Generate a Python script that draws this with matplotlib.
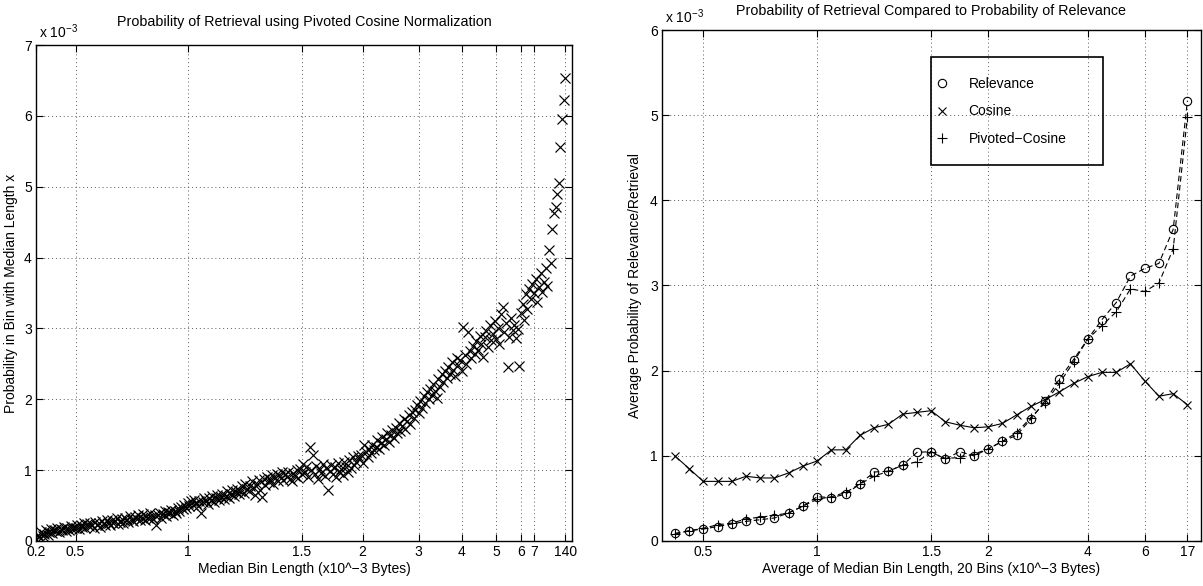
import numpy as np
import matplotlib.pyplot as plt
from matplotlib.patches import Rectangle

plt.rcParams['font.family'] = ['Liberation Sans', 'DejaVu Sans']
plt.rcParams['mathtext.fontset'] = 'custom'
plt.rcParams['mathtext.rm'] = 'Liberation Sans'
plt.rcParams['mathtext.it'] = 'Liberation Sans'

# ---- left chart: probability per bin (units of 1e-3), one value per bin ----
left_probs = [
    0.03, 0.08, 0.05, 0.12, 0.07, 0.10, 0.15, 0.09, 0.13, 0.17, 0.11, 0.16,
    0.14, 0.19, 0.12, 0.17, 0.15, 0.20, 0.14, 0.18, 0.16, 0.21, 0.17, 0.19,
    0.19, 0.23, 0.17, 0.22, 0.20, 0.25, 0.18, 0.24, 0.21, 0.26,
    0.22, 0.19, 0.27, 0.23, 0.25, 0.20, 0.28, 0.24, 0.22, 0.29,
    0.26, 0.23, 0.30, 0.25, 0.28, 0.32, 0.24, 0.27, 0.31, 0.26,
    0.33, 0.29, 0.27, 0.35, 0.30, 0.28, 0.34, 0.31, 0.36, 0.29,
    0.33, 0.38, 0.30, 0.35, 0.32, 0.39, 0.34, 0.31, 0.37, 0.22,
    0.36, 0.40, 0.33, 0.38, 0.42, 0.35, 0.41, 0.39, 0.44, 0.37,
    0.43, 0.40, 0.46, 0.42, 0.48, 0.45, 0.51, 0.47,
    0.53, 0.49, 0.56, 0.51, 0.58, 0.54, 0.50, 0.57, 0.40, 0.55,
    0.60, 0.56, 0.52, 0.61, 0.58, 0.63, 0.55, 0.60, 0.65, 0.58,
    0.62, 0.67, 0.59, 0.64, 0.70, 0.61, 0.66, 0.72, 0.63, 0.69,
    0.74, 0.66, 0.71, 0.77, 0.68, 0.80, 0.73, 0.70, 0.78, 0.84,
    0.75, 0.65, 0.81, 0.86, 0.72, 0.62, 0.88, 0.79, 0.91, 0.83,
    0.87, 0.93, 0.80, 0.89, 0.95, 0.84, 0.92, 0.97, 0.86, 0.94,
    0.90, 0.98, 0.88, 0.85, 0.96, 0.92, 1.00, 0.89,
    1.02, 0.94, 1.08, 0.97, 1.05, 0.91, 1.33, 1.00, 1.22, 0.95,
    1.06, 0.88, 1.01, 0.96, 1.09, 0.92, 1.03, 0.72, 0.99, 1.07,
    0.94, 1.04, 0.90, 1.10, 0.98, 1.02, 0.93, 1.12, 1.05, 0.97,
    1.14, 1.03, 1.18, 1.07, 1.11, 1.20,
    1.16, 1.22, 1.10, 1.35, 1.25, 1.19, 1.30, 1.24, 1.36, 1.28,
    1.33, 1.42, 1.30, 1.38, 1.47, 1.35, 1.44, 1.52, 1.40, 1.49,
    1.56, 1.45, 1.60, 1.52, 1.66, 1.55, 1.63, 1.72, 1.58, 1.70,
    1.78, 1.65, 1.82, 1.74,
    1.85, 1.92, 1.80, 1.98, 1.88, 2.05, 1.95, 2.10, 2.00, 2.15,
    2.06, 2.22, 2.12, 2.02, 2.28, 2.18, 2.35, 2.24, 2.40, 2.30,
    2.46, 2.36, 2.52, 2.42, 2.33, 2.58, 2.48,
    2.55, 2.40, 3.02, 2.62, 2.50, 2.95, 2.68, 2.58, 2.75, 2.64,
    2.82, 2.70, 2.90, 2.78, 2.60, 2.88, 2.96, 2.74, 3.05, 2.84,
    2.92, 3.10, 2.85, 3.00, 2.78, 3.20, 3.30, 2.95, 3.08, 2.46,
    2.88, 3.15, 2.98, 3.05, 2.86,
    2.99, 2.47, 3.22, 3.35, 3.12, 3.48, 3.28, 3.55,
    3.42, 3.62, 3.50, 3.70, 3.38, 3.58, 3.78, 3.52, 3.66, 3.85, 3.60, 4.10,
    3.92, 4.40, 4.63, 4.71, 4.90, 5.05, 5.56, 5.95, 6.22, 6.53,
]
left_tick_bins = [0, 24, 92, 161, 198, 232, 258, 279, 294, 302, 321]
left_tick_labels = ['0.2', '0.5', '1', '1.5', '2', '3', '4', '5', '6', '7', '140']

# ---- right chart: averages over 20-bin groups (units of 1e-3) ----
relevance = [0.09, 0.12, 0.14, 0.17, 0.20, 0.23, 0.25, 0.27, 0.33, 0.41, 0.52,
             0.51, 0.55, 0.67, 0.81, 0.82, 0.89, 1.04, 1.05, 0.96, 1.05, 1.00,
             1.08, 1.17, 1.24, 1.43, 1.64, 1.90, 2.13, 2.37, 2.60, 2.80, 3.11,
             3.20, 3.26, 3.66, 5.17]
cosine = [1.00, 0.85, 0.70, 0.70, 0.70, 0.76, 0.74, 0.74, 0.80, 0.88, 0.94,
          1.07, 1.07, 1.24, 1.33, 1.37, 1.49, 1.51, 1.53, 1.40, 1.36, 1.33,
          1.34, 1.38, 1.48, 1.58, 1.66, 1.75, 1.85, 1.93, 1.98, 1.98, 2.08,
          1.88, 1.70, 1.73, 1.60]
pivoted = [0.08, 0.12, 0.15, 0.19, 0.21, 0.26, 0.28, 0.30, 0.33, 0.41, 0.49,
           0.52, 0.57, 0.67, 0.76, 0.82, 0.89, 0.93, 1.04, 0.97, 0.98, 1.02,
           1.08, 1.17, 1.27, 1.45, 1.62, 1.85, 2.10, 2.37, 2.53, 2.69, 2.96,
           2.93, 3.03, 3.43, 4.98]
right_tick_bins = [2, 10, 18, 22, 29, 33, 36]
right_tick_labels = ['0.5', '1', '1.5', '2', '4', '6', '17']

fig = plt.figure(figsize=(12.03, 5.86), dpi=100)
ax1 = fig.add_axes([0.0299, 0.0768, 0.4456, 0.8464])
ax2 = fig.add_axes([0.5503, 0.0768, 0.4480, 0.8720])


def style_axes(ax):
    ax.tick_params(direction='in', top=True, right=True, length=5,
                   width=0.8, labelsize=10, pad=3)
    for sp in ax.spines.values():
        sp.set_linewidth(1.0)
    ax.grid(True, color='0.35', linestyle=(0, (1, 3)), linewidth=0.7)
    ax.set_axisbelow(True)


# left chart
bins = np.arange(len(left_probs))
ax1.plot(bins, left_probs, linestyle='none', marker='x', color='black',
         markersize=7, markeredgewidth=0.85)
ax1.set_xlim(0, 325)
ax1.set_ylim(0, 7)
ax1.set_xticks(left_tick_bins)
ax1.set_xticklabels(left_tick_labels)
ax1.set_yticks(range(0, 8))
style_axes(ax1)
ax1.set_title('Probability of Retrieval using Pivoted Cosine Normalization',
              fontsize=10.3, pad=14)
ax1.set_xlabel('Median Bin Length (x10^\u22123 Bytes)', fontsize=10, labelpad=2)
ax1.set_ylabel('Probability in Bin with Median Length x', fontsize=10, labelpad=4)
ax1.text(0.005, 1.008, r'x 10$^{-3}$', transform=ax1.transAxes,
         fontsize=10, ha='left', va='bottom')

# right chart
grp = np.arange(len(relevance))
ax2.plot(grp, relevance, color='black', linestyle=(0, (5, 3)), linewidth=0.8)
ax2.plot(grp, cosine, color='black', linestyle='-', linewidth=0.8)
ax2.plot(grp, pivoted, color='black', linestyle=(0, (5, 3)), linewidth=0.8)
ax2.plot(grp, relevance, linestyle='none', marker='o', markersize=6,
         markerfacecolor='none', markeredgecolor='black', markeredgewidth=0.8,
         label='Relevance')
ax2.plot(grp, cosine, linestyle='none', marker='x', markersize=6,
         color='black', markeredgewidth=0.8, label='Cosine')
ax2.plot(grp, pivoted, linestyle='none', marker='+', markersize=7,
         color='black', markeredgewidth=0.8, label='Pivoted\u2212Cosine')
ax2.set_xlim(-0.9, 36.95)
ax2.set_ylim(0, 6)
ax2.set_xticks(right_tick_bins)
ax2.set_xticklabels(right_tick_labels)
ax2.set_yticks(range(0, 7))
style_axes(ax2)
ax2.set_title('Probability of Retrieval Compared to Probability of Relevance',
              fontsize=10.3, pad=11)
ax2.set_xlabel('Average of Median Bin Length, 20 Bins (x10^\u22123 Bytes)',
               fontsize=10, labelpad=2)
ax2.set_ylabel('Average Probability of Relevance/Retrieval', fontsize=10,
               labelpad=6)
ax2.text(0.005, 1.008, r'x 10$^{-3}$', transform=ax2.transAxes,
         fontsize=10, ha='left', va='bottom')

# legend: transparent box (grid shows through), entries placed inside
ax2.add_patch(Rectangle((0.499, 0.736), 0.319, 0.211, transform=ax2.transAxes,
                        fill=False, edgecolor='black', linewidth=1.2,
                        zorder=5))
ax2.legend(loc='upper left', bbox_to_anchor=(0.506, 0.908), fontsize=10,
           frameon=False, borderpad=0, borderaxespad=0, labelspacing=0.97,
           handlelength=1.0, handletextpad=1.44)

fig.savefig('out.png', dpi=100)
